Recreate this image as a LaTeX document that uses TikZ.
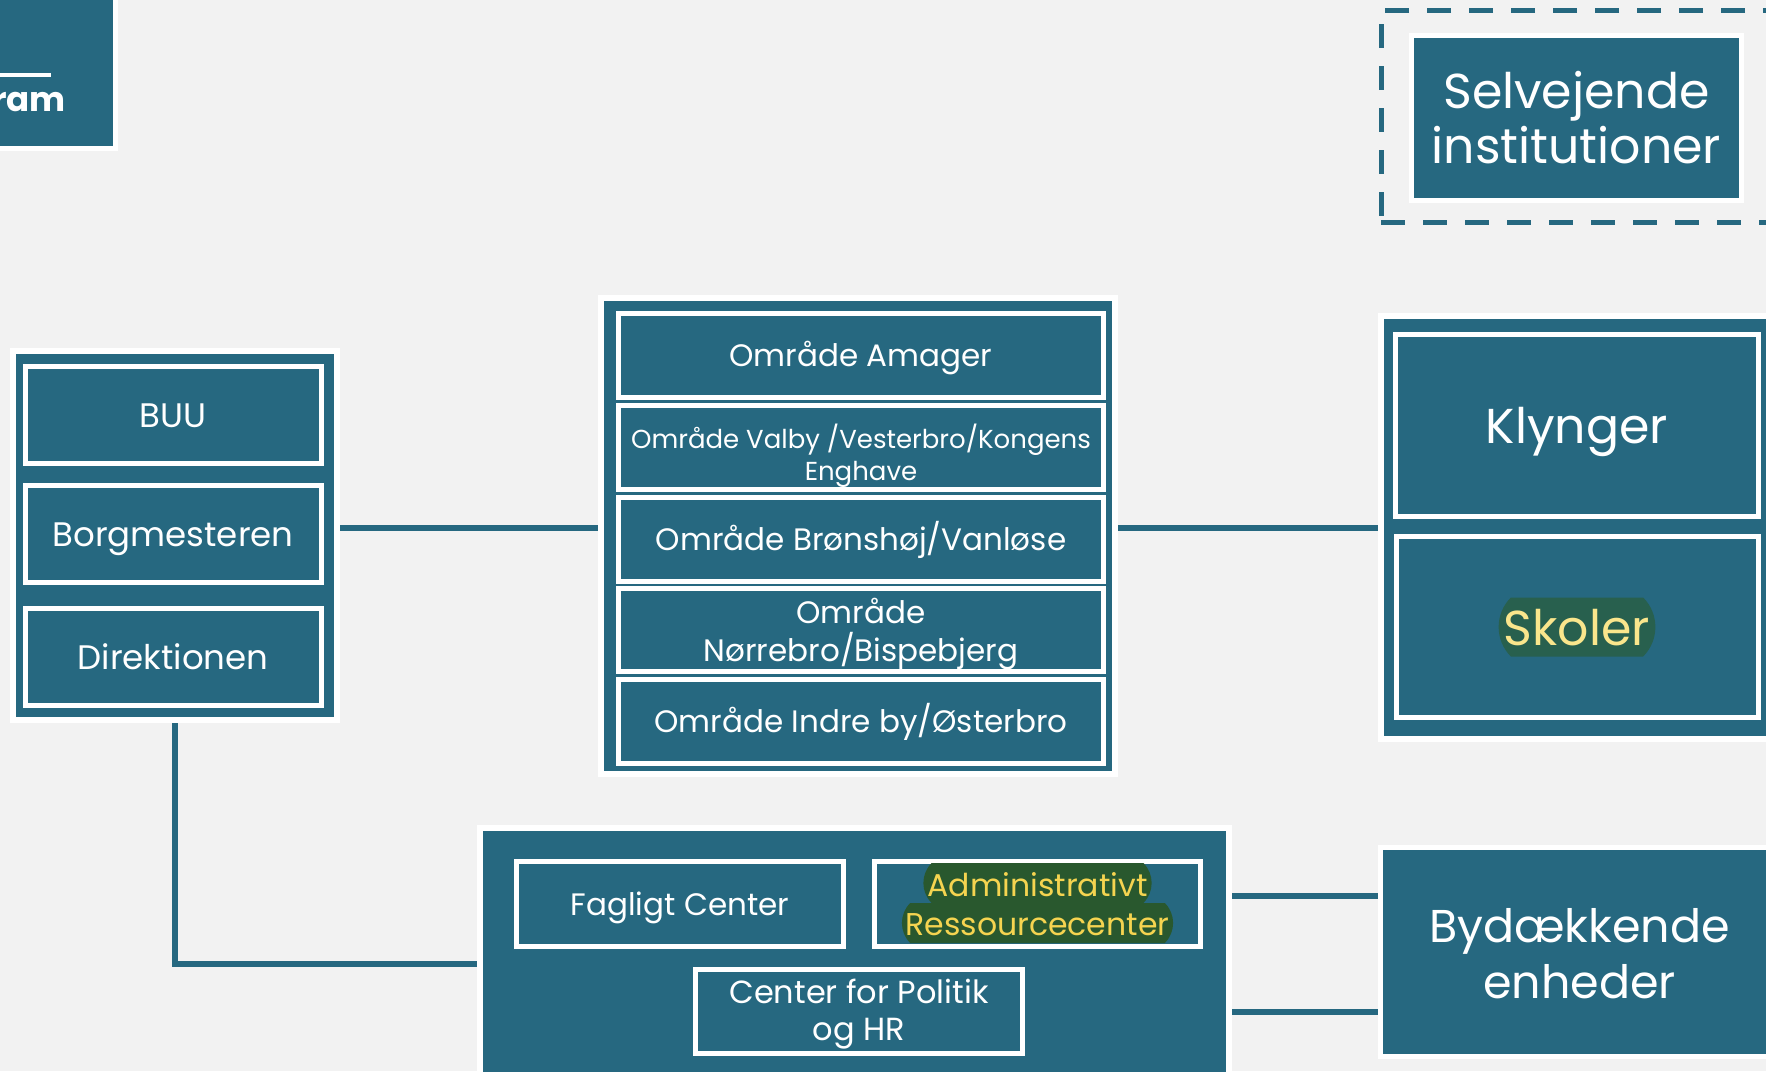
\documentclass[tikz,border=0pt]{standalone}
\usepackage{fontspec}
\setmainfont{Poppins}[Ligatures=NoCommon]
\usetikzlibrary{positioning,shapes.misc}
\definecolor{kkteal}{RGB}{38,104,128}
\definecolor{kkbg}{RGB}{242,242,242}
\definecolor{skgreen}{RGB}{40,96,78}
\definecolor{skyellow}{RGB}{250,230,140}
\definecolor{argreen}{RGB}{41,88,46}
\definecolor{aryellow}{RGB}{245,212,80}
\newcommand{\sz}[2]{\fontsize{#1}{#2}\selectfont}

\begin{document}
\begin{tikzpicture}[x=1pt,y=-1pt,
  grp/.style={draw=white,line width=6pt,fill=kkteal,inner sep=0pt},
  cell/.style={draw=white,line width=5pt,fill=kkteal,text=white,align=center,inner sep=0pt},
  tb/.style 2 args={text height=#1,text depth=#2},
  hl/.style={rounded rectangle,rounded rectangle arc length=90,inner xsep=1pt,inner ysep=0pt},
  ln/.style={draw=kkteal,line width=6pt}]
  \fill[kkbg] (0,0) rectangle (1766,1071);
  \useasboundingbox (0,0) rectangle (1766,1071);
  % title box, cut off at the left
  \node[grp,line width=5pt,minimum width=160pt,minimum height=180pt] (hdr) at (35.5,58.5) {};
  \node[text=white,anchor=base east,inner sep=0pt,font=\sz{34pt}{34pt}\bfseries] (hdrtxt) at (66,111) {ram};
  \draw[white,line width=4pt] (hdr.west |- 0,75) -- (51,75);
  % politics / management
  \node[grp,minimum width=324pt,minimum height=369pt] (polit) at (175,535.5) {};
  \node[cell,minimum width=296pt,minimum height=97pt,font=\sz{34pt}{36pt},tb={24pt}{0pt}] (buu) at (173,415) {BUU};
  \node[cell,minimum width=296pt,minimum height=97pt,font=\sz{34pt}{36pt},tb={24pt}{0pt},below=17pt of buu] (borg) {Borgmesteren};
  \node[cell,minimum width=296pt,minimum height=97pt,font=\sz{34pt}{36pt},tb={24pt}{0pt},below=21pt of borg] (dir) {Direktionen};
  % areas
  \node[grp,minimum width=514pt,minimum height=476pt] (omr) at (858,536) {};
  \node[cell,minimum width=485pt,minimum height=84pt,font=\sz{31pt}{36pt},tb={22.5pt}{0pt}] (amager) at (861,355.5) {Område Amager};
  \node[cell,minimum width=485pt,minimum height=84pt,font=\sz{26pt}{32pt},tb={65pt}{0pt},below=3pt of amager] (valby) {Område Valby /Vesterbro/Kongens\\Enghave};
  \node[cell,minimum width=485pt,minimum height=84pt,font=\sz{31pt}{36pt},tb={22.5pt}{0pt},below=3pt of valby] (bron) {Område Brønshøj/Vanløse};
  \node[cell,minimum width=485pt,minimum height=83pt,font=\sz{31pt}{38pt},tb={62pt}{0pt},below=2pt of bron] (norre) {Område\\Nørrebro/Bispebjerg};
  \node[cell,minimum width=485pt,minimum height=84pt,font=\sz{31pt}{36pt},tb={22.5pt}{0pt},below=3pt of norre] (indre) {Område Indre by/Østerbro};
  % units
  \node[grp,minimum width=392pt,minimum height=423pt] (enh) at (1577,527.5) {};
  \node[cell,minimum width=363pt,minimum height=182pt,font=\sz{49pt}{49pt},tb={35pt}{0pt}] (klynger) at (1577,425.5) {Klynger};
  \node[cell,minimum width=362pt,minimum height=181pt,below=15pt of klynger] (skoler) {};
  \node[hl,fill=skgreen,text=skyellow,minimum height=59pt,font=\sz{49pt}{49pt},tb={37pt}{0pt}] (skotxt) at (skoler.center) {Skoler};
  % self-governing
  \node[draw=kkteal,line width=5pt,dash pattern=on 24pt off 18pt,minimum width=391pt,minimum height=212pt] (selvramme) at (1576.5,116) {};
  \node[cell,minimum width=330pt,minimum height=165pt,font=\sz{49pt}{55pt},tb={90pt}{0pt}] (selv) at (1576.5,118) {Selvejende\\institutioner};
  % central staff
  \node[grp,minimum width=749pt,minimum height=272pt] (stab) at (854.5,964) {};
  \node[cell,minimum width=327pt,minimum height=85pt,font=\sz{31pt}{36pt},tb={22.5pt}{0pt}] (fag) at (680,904) {Fagligt Center};
  \node[cell,minimum width=326pt,minimum height=85pt,right=26pt of fag] (adm) {};
  \node[hl,fill=argreen,text=aryellow,minimum height=40pt,font=\sz{31.5pt}{36pt},tb={24pt}{0pt}] (adm2) at ([yshift=-19pt]adm.center) {Ressourcecenter};
  \node[hl,fill=argreen,text=aryellow,minimum height=40pt,font=\sz{31.5pt}{36pt},tb={26pt}{0pt}] (adm1) at ([yshift=21pt]adm.center) {Administrativt};
  \node[cell,minimum width=327pt,minimum height=84pt,font=\sz{32pt}{37pt},tb={57pt}{0pt}] (cpol) at (859,1011.5) {Center for Politik\\og HR};
  \node[cell,minimum width=398pt,minimum height=209pt,font=\sz{46pt}{56pt},tb={92pt}{0pt}] (byd) at (1579.5,952) {Bydækkende\\enheder};
  % connectors
  \coordinate (midrow) at (0,528);
  \draw[ln] (polit.east |- midrow) -- (omr.west |- midrow);
  \draw[ln] (omr.east |- midrow) -- (enh.west |- midrow);
  \draw[ln] (polit.south) |- (stab.west);
  \draw[ln] (stab.east |- 0,896) -- (byd.west |- 0,896);
  \draw[ln] (stab.east |- 0,1012) -- (byd.west |- 0,1012);
\end{tikzpicture}
\end{document}
